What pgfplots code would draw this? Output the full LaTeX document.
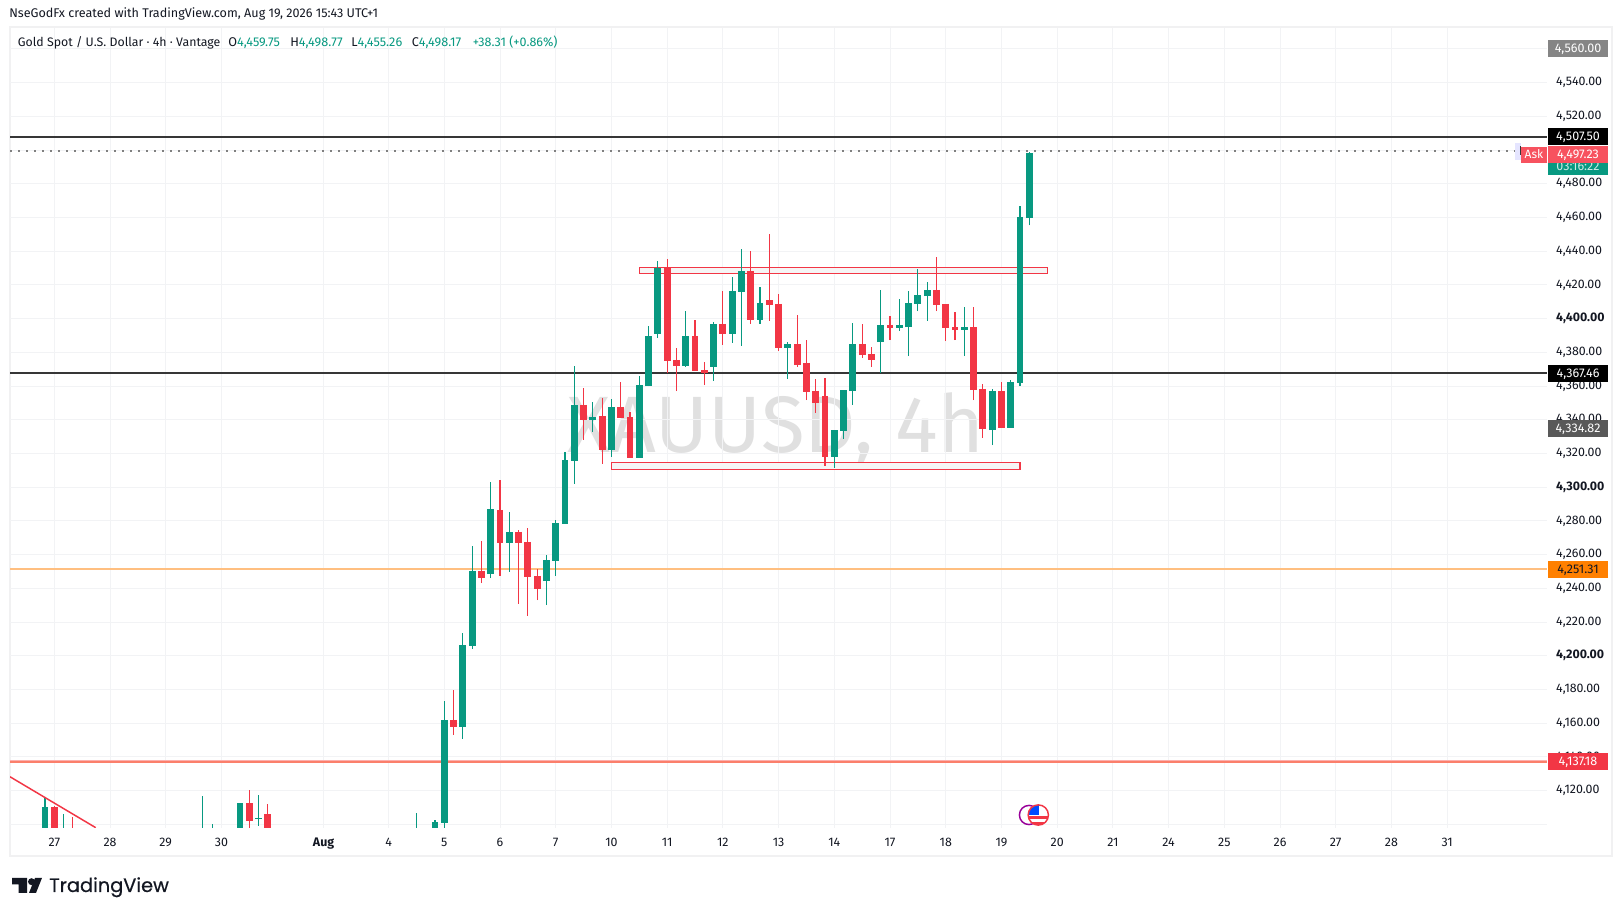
\documentclass[border=0pt]{standalone}
\usepackage{pgfplots}
\pgfplotsset{compat=1.18}
\usepackage{fontspec}
\setmainfont{Fira Sans}
\newfontfamily\logofont[FakeBold=0.5]{Poppins}
\definecolor{upc}{HTML}{089981}
\definecolor{dnc}{HTML}{F23645}
\definecolor{gridc}{HTML}{F2F3F5}
\definecolor{framec}{HTML}{F1F1F2}
\definecolor{lblred}{HTML}{F7525F}
\definecolor{txtc}{HTML}{131722}
\definecolor{linec}{HTML}{363636}
\definecolor{salmon}{HTML}{FB7F6B}
\definecolor{pinkh}{HTML}{FBB0AE}
\newcommand\PX[2]{({(#1)*0.75pt},{(916-(#2))*0.75pt})}
% i, open, high, low, close
\newcommand\up[5]{%
  \addplot[forget plot,upc,line width=0.9pt] coordinates {(#1,#4)(#1,#3)};
  \addplot[forget plot,upc,line width=5.2pt] coordinates {(#1,#2)(#1,#5)};}
\newcommand\dn[5]{%
  \addplot[forget plot,dnc,line width=0.9pt] coordinates {(#1,#4)(#1,#3)};
  \addplot[forget plot,dnc,line width=5.2pt] coordinates {(#1,#2)(#1,#5)};}
\newcommand\lbl[4]{% fill, y centre, text colour, text
  \node[fill=#1,text=#3,anchor=center,minimum width=45pt,minimum height=12.5pt,inner sep=0pt,font=\fontsize{9.4}{10}\selectfont,text depth=0pt] at \PX{1578}{#2} {#4};}
\begin{document}
\begin{tikzpicture}
\useasboundingbox (0,0) rectangle (1217.25pt,687pt);
\fill[white] (0,0) rectangle (1217.25pt,687pt);
\draw[framec,line width=1.1pt] \PX{10}{27} rectangle \PX{1612}{856};
% watermark
\node[text=black!12,anchor=base,inner sep=0pt,font=\fontsize{60}{66}\selectfont] at \PX{776}{453} {XAUUSD, 4h};
\begin{axis}[
  at={(7.5pt,66pt)},anchor=south west,
  scale only axis,width=1152.75pt,height=600pt,
  xmin=-4.77,xmax=160.75,ymin=4097.8,ymax=4572.4,
  axis line style={draw=none},
  tick style={draw=none},
  grid=major,major grid style={gridc,line width=0.75pt},
  xtick={0,6,12,18,29,36,42,48,54,60,66,72,78,84,90,96,102,108,114,120,126,132,138,144,150},
  xticklabels={27,28,29,30,\textbf{Aug},4,5,6,7,10,11,12,13,14,17,18,19,20,21,24,25,26,27,28,31},
  ytick={4100,4120,4140,4160,4180,4200,4220,4240,4260,4280,4300,4320,4340,4360,4380,4400,4420,4440,4460,4480,4500,4520,4540,4560},
  yticklabels={,{4,120.00},{4,140.00},{4,160.00},{4,180.00},\textbf{4,200.00},{4,220.00},{4,240.00},{4,260.00},{4,280.00},\textbf{4,300.00},{4,320.00},{4,340.00},{4,360.00},{4,380.00},\textbf{4,400.00},{4,420.00},{4,440.00},{4,460.00},{4,480.00},,{4,520.00},{4,540.00},{4,560.00}},
  yticklabel pos=right,
  tick label style={font=\fontsize{9.3}{10}\selectfont,text=txtc,inner sep=0pt},
  yticklabel style={anchor=west,xshift=6.7pt},
  xticklabel style={anchor=base,yshift=-14pt},
  clip=true,
]
% levels
\addplot[forget plot,color=orange!50!white,line width=1.1pt] coordinates {(-4.77,4251.31)(160.75,4251.31)};
\addplot[forget plot,color=pinkh,line width=2.6pt] coordinates {(-4.77,4137.18)(160.75,4137.18)};
\addplot[forget plot,color=salmon,line width=1.5pt] coordinates {(-4.77,4137.18)(160.75,4137.18)};
\addplot[forget plot,color=linec,line width=1.5pt] coordinates {(-4.77,4367.46)(160.75,4367.46)};
\addplot[forget plot,color=linec,line width=1.5pt] coordinates {(-4.77,4507.50)(160.75,4507.50)};
\addplot[forget plot,color=black!50,line width=1.2pt,dash pattern=on 1.5pt off 4.5pt] coordinates {(-4.77,4499.6)(160.75,4499.6)};
% boxes
\addplot[forget plot,draw=dnc,fill=black!4,line width=0.9pt] coordinates {(63,4426.8)(107,4426.8)(107,4430.5)(63,4430.5)} --cycle;
\addplot[forget plot,draw=dnc,fill=black!4,line width=0.9pt] coordinates {(60,4310.6)(104,4310.6)(104,4314.8)(60,4314.8)} --cycle;
% candles
\up{-1}{4090}{4116}{4085}{4110.3}
\dn{0}{4110.3}{4110.9}{4085}{4090}
\up{1}{4085}{4106}{4080}{4090}
\dn{2}{4090}{4104.5}{4080}{4085}
\up{16}{4085}{4116.8}{4080}{4090}
\up{17}{4085}{4100.2}{4080}{4090}
\up{20}{4085}{4112.6}{4080}{4112.6}
\dn{21}{4112.6}{4120.4}{4095}{4102.1}
\up{22}{4103}{4117.4}{4099}{4103.8}
\dn{23}{4106}{4112}{4085}{4090}
\up{39}{4085}{4106.5}{4080}{4090}
\up{41}{4090}{4102.5}{4085}{4101.4}
\up{42}{4100.8}{4173.2}{4095}{4161.9}
\dn{43}{4161.9}{4179.7}{4153}{4157.7}
\up{44}{4157.7}{4213.5}{4150.6}{4206.4}
\up{45}{4205.8}{4265}{4204}{4250.3}
\dn{46}{4250.3}{4268}{4243}{4246}
\up{47}{4248.5}{4303}{4246}{4287}
\dn{48}{4286.5}{4304}{4247.3}{4267}
\up{49}{4267}{4285.3}{4249.7}{4273.4}
\dn{50}{4273.4}{4274.6}{4230.7}{4267}
\dn{51}{4267.5}{4275.8}{4223.6}{4246.7}
\dn{52}{4247.3}{4251.5}{4233}{4239.6}
\up{53}{4244.3}{4259.8}{4230}{4256.8}
\up{54}{4256.2}{4280.5}{4247.3}{4278.8}
\up{55}{4278.2}{4320.9}{4278.2}{4316}
\up{56}{4315.6}{4371.9}{4301.9}{4348.8}
\dn{57}{4348.8}{4358.9}{4328}{4339.9}
\up{58}{4339.9}{4350.5}{4332.8}{4341.6}
\dn{59}{4342.2}{4352.9}{4313.8}{4322}
\up{60}{4322}{4352.3}{4318}{4347.6}
\dn{61}{4347.6}{4362.4}{4341}{4341}
\dn{62}{4341.6}{4344.6}{4317.3}{4317.3}
\up{63}{4317.3}{4366}{4317.3}{4360.6}
\up{64}{4360}{4395.6}{4360}{4389.7}
\up{65}{4390.9}{4434.2}{4388.5}{4430}
\dn{66}{4430.4}{4435.4}{4367.8}{4374.9}
\dn{67}{4375.5}{4382.6}{4357}{4371.9}
\up{68}{4371.9}{4404.5}{4371.3}{4389.7}
\dn{69}{4389.7}{4399.2}{4368.9}{4368.9}
\dn{70}{4369.5}{4374.3}{4360.6}{4367.8}
\up{71}{4371.3}{4398}{4363}{4396.8}
\dn{72}{4396.8}{4416.4}{4384.4}{4390.9}
\up{73}{4390.9}{4424.7}{4385.6}{4416.4}
\up{74}{4415.8}{4441.3}{4383.8}{4428.3}
\dn{75}{4428.3}{4440.1}{4396.8}{4399.2}
\up{76}{4399.2}{4418.7}{4396.8}{4409.3}
\dn{77}{4411}{4450.2}{4398.6}{4408.1}
\dn{78}{4408.7}{4414.6}{4380.8}{4382.6}
\up{79}{4382.6}{4386.1}{4364.3}{4384.9}
\dn{80}{4384.9}{4402.2}{4371.3}{4372.5}
\dn{81}{4373.7}{4387.3}{4351.7}{4356.6}
\dn{82}{4357.2}{4364.3}{4344}{4350.2}
\dn{83}{4354.2}{4364.9}{4312.6}{4318}
\up{84}{4318}{4333.9}{4311.4}{4333.9}
\up{85}{4333.3}{4357.7}{4328.6}{4357.7}
\up{86}{4357}{4397.4}{4348.8}{4384.9}
\dn{87}{4384.9}{4396.8}{4376.7}{4378.4}
\dn{88}{4379}{4383.2}{4371.3}{4375.5}
\up{89}{4386.1}{4417}{4367.8}{4396.2}
\dn{90}{4396.2}{4401.6}{4387.3}{4394.5}
\up{91}{4394.5}{4411.8}{4392.7}{4396.2}
\up{92}{4395}{4416.4}{4377.8}{4409.3}
\up{93}{4408.7}{4429.5}{4404.5}{4414}
\up{94}{4413.4}{4421.8}{4398.6}{4417}
\dn{95}{4417}{4436.6}{4404.5}{4408.1}
\dn{96}{4408.7}{4408.7}{4386.7}{4394.5}
\dn{97}{4395}{4403.9}{4387.3}{4393.3}
\up{98}{4393.3}{4406.9}{4377.8}{4395}
\dn{99}{4395}{4406.9}{4351.7}{4357.7}
\dn{100}{4358.3}{4361.2}{4329.2}{4334.5}
\up{101}{4333.9}{4358.3}{4325}{4357}
\dn{102}{4357}{4362.4}{4335.1}{4335.1}
\up{103}{4335.1}{4363.6}{4335.1}{4362.4}
\up{104}{4361.8}{4466.8}{4360}{4460.3}
\up{105}{4459.75}{4498.77}{4455.26}{4498.17}
% trend line
\addplot[forget plot,color=dnc,line width=1.1pt] coordinates {(-4.77,4128.2)(4.46,4098)};
\end{axis}
% price scale labels
\fill[blue!10] \PX{1515}{143} rectangle \PX{1521}{160};
\fill[linec] \PX{1520}{146} rectangle \PX{1521}{155};
\fill[lblred] \PX{1521}{146.7} rectangle \PX{1547}{162.7};
\node[text=white,font=\fontsize{9}{10}\selectfont,inner sep=0pt] at \PX{1534}{154.5} {Ask};
\lbl{black!65}{428.4}{white}{4,334.82}
\lbl{black!48}{48.4}{white}{4,560.00}
\lbl{black}{373.3}{white}{4,367.46}
\lbl{orange}{569.3}{txtc}{4,251.31}
\lbl{dnc}{761.6}{white}{4,137.18}
\lbl{black}{136.7}{white}{4,507.50}
\lbl{upc}{166.7}{white!80!upc}{03:16:22}
\lbl{lblred}{154.3}{white}{4,497.23}
% header
\node[anchor=base west,inner sep=0pt,text=txtc,font=\fontsize{9.45}{10}\selectfont] at \PX{9}{18} {NseGodFx created with TradingView.com, Aug 19, 2026 15:43 UTC+1};
\node[anchor=base west,inner sep=0pt,text=txtc,font=\fontsize{9.25}{10}\selectfont] at \PX{17.6}{46.5} {Gold Spot / U.S. Dollar · 4h · Vantage};
\node[anchor=base west,inner sep=0pt,text=txtc,font=\fontsize{9.5}{10}\selectfont] at \PX{228}{46.5} {O\textcolor{upc}{4,459.75}};
\node[anchor=base west,inner sep=0pt,text=txtc,font=\fontsize{9.5}{10}\selectfont] at \PX{290}{46.5} {H\textcolor{upc}{4,498.77}};
\node[anchor=base west,inner sep=0pt,text=txtc,font=\fontsize{9.5}{10}\selectfont] at \PX{351}{46.5} {L\textcolor{upc}{4,455.26}};
\node[anchor=base west,inner sep=0pt,text=txtc,font=\fontsize{9.5}{10}\selectfont] at \PX{411.5}{46.5} {C\textcolor{upc}{4,498.17}};
\node[anchor=base west,inner sep=0pt,text=upc,font=\fontsize{9.4}{10}\selectfont] at \PX{472.6}{46.5} {+38.31 (+0.86\%)};
% event icon
\draw[violet!80!magenta,line width=1.1pt,fill=white] \PX{1029}{815} circle (7.2pt);
\begin{scope}
\clip \PX{1038.3}{815} circle (7.6pt);
\fill[white] \PX{1026}{803} rectangle \PX{1050}{827};
\fill[dnc] \PX{1026}{816} rectangle \PX{1050}{819};
\fill[dnc] \PX{1026}{822} rectangle \PX{1050}{825};
\fill[blue!70!cyan] \PX{1026}{804} rectangle \PX{1039}{815};
\end{scope}
\draw[dnc,line width=1.1pt] \PX{1038.3}{815} circle (7.6pt);
% logo
\fill[txtc] \PX{12}{878} -- \PX{27}{878} -- \PX{27}{893} -- \PX{18.5}{893} -- \PX{18.5}{884.5} -- \PX{12}{884.5} --cycle;
\fill[txtc] \PX{31.5}{881.7} circle (2.6pt);
\fill[txtc] \PX{36}{893} -- \PX{42}{878} -- \PX{35}{878} -- \PX{29}{893} --cycle;
\node[anchor=base west,inner sep=0pt,text=txtc,font=\logofont\fontsize{14.5}{16}\selectfont] at \PX{49}{892} {TradingView};
\end{tikzpicture}
\end{document}
